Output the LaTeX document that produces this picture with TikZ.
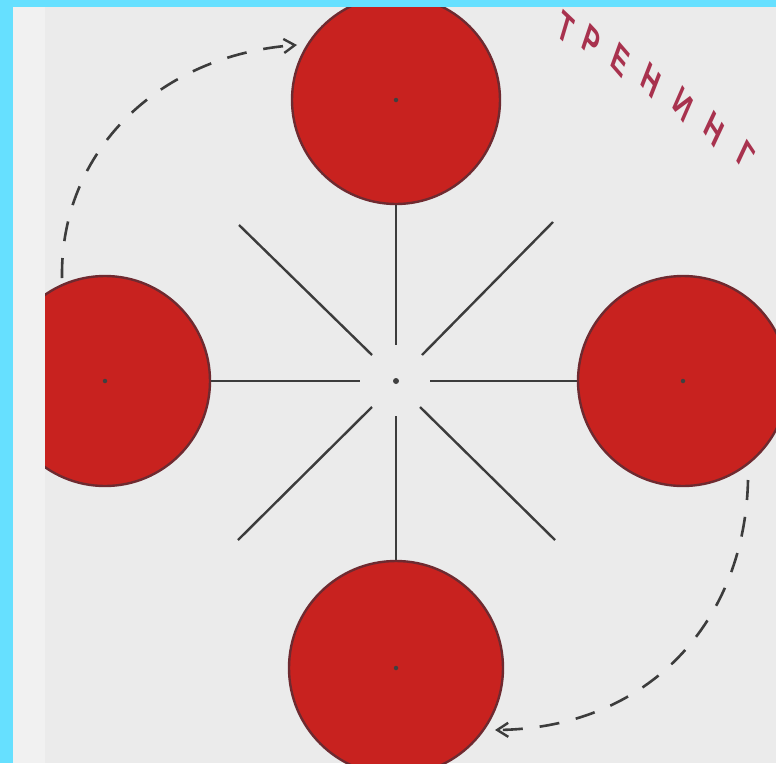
\documentclass[tikz,border=0pt]{standalone}
\usepackage{fontspec}
\newfontfamily\stampfont{Liberation Sans}
\usetikzlibrary{arrows.meta}
\definecolor{cyanbg}{HTML}{66E0FF}
\definecolor{paper}{HTML}{EBEBEB}
\definecolor{paperedge}{HTML}{F1F1F1}
\definecolor{discred}{HTML}{C8221F}
\definecolor{discedge}{HTML}{6E2A30}
\definecolor{ink}{HTML}{3C3C3C}
\definecolor{stamp}{HTML}{A8324E}
\tikzset{
  disc/.style={circle, fill=discred, draw=discedge, line width=2.4pt, inner sep=0pt, minimum size=#1},
  pip/.style={circle, fill=black!75, inner sep=0pt, minimum size=4.5pt},
  spoke/.style={draw=ink, line width=2.4pt},
  turn/.style={draw=ink, line width=2.6pt, dash pattern=on 20pt off 17pt, -{Straight Barb[length=11pt,width=14pt,line width=2.4pt]}},
  letter/.style={text=stamp, font=\stampfont\bfseries\fontsize{42}{42}\selectfont, xscale=0.56, inner sep=0pt}
}
\begin{document}
\begin{tikzpicture}[x=1pt,y=-1pt]
\useasboundingbox (0,0) rectangle (776,763);
\fill[cyanbg] (0,0) rectangle (776,763);
\fill[paper] (13,7) rectangle (776,763);
\fill[paperedge] (13,7) rectangle (45,763);
\begin{scope}
\clip (45,7) rectangle (776,763);
\node[disc=208pt] (top) at (396,100) {};
\node[disc=210pt] (left) at (105,381) {};
\node[disc=210pt] (right) at (683,381) {};
\node[disc=214pt] (bottom) at (396,668) {};
\end{scope}
\node[pip] (ptop) at (top.center) {};
\node[pip] (pleft) at (left.center) {};
\node[pip] (pright) at (right.center) {};
\node[pip] (pbottom) at (bottom.center) {};
\node[pip, minimum size=6pt] (c) at (396,381) {};
% inner ends of spokes
\coordinate (tin) at (396,345);
\coordinate (bin) at (396,416);
\coordinate (lin) at (360,381);
\coordinate (rin) at (430,381);
\coordinate (ulo) at (239,225);
\coordinate (uli) at (372,355);
\coordinate (uro) at (553,222);
\coordinate (uri) at (422,355);
\coordinate (llo) at (238,540);
\coordinate (lli) at (372,407);
\coordinate (lro) at (555,540);
\coordinate (lri) at (420,407);
\draw[spoke] (top.south) -- (tin);
\draw[spoke] (bottom.north) -- (bin);
\draw[spoke] (left.east) -- (lin);
\draw[spoke] (right.west) -- (rin);
\draw[spoke] (ulo) -- (uli);
\draw[spoke] (uro) -- (uri);
\draw[spoke] (llo) -- (lli);
\draw[spoke] (lro) -- (lri);
% turning arrows
\coordinate (a1s) at (62,278);
\coordinate (a1e) at (297,45);
\coordinate (a2s) at (748,480);
\coordinate (a2e) at (495,730);
\draw[turn] (a1s) .. controls (60,150) and (160,55) .. (a1e);
\draw[turn] (a2s) .. controls (745,620) and (650,728) .. (a2e);
% stamped word
\node[letter, rotate=-28] (l1) at (566,28) {Т};
\node[letter, rotate=-31] (l2) at (591,41) {Р};
\node[letter, rotate=-33] (l3) at (620,60) {Е};
\node[letter, rotate=-35] (l4) at (651,80) {Н};
\node[letter, rotate=-38] (l5) at (683,104) {И};
\node[letter, rotate=-40] (l6) at (714,129) {Н};
\node[letter, rotate=-40] (l7) at (746,156) {Г};
\end{tikzpicture}
\end{document}
